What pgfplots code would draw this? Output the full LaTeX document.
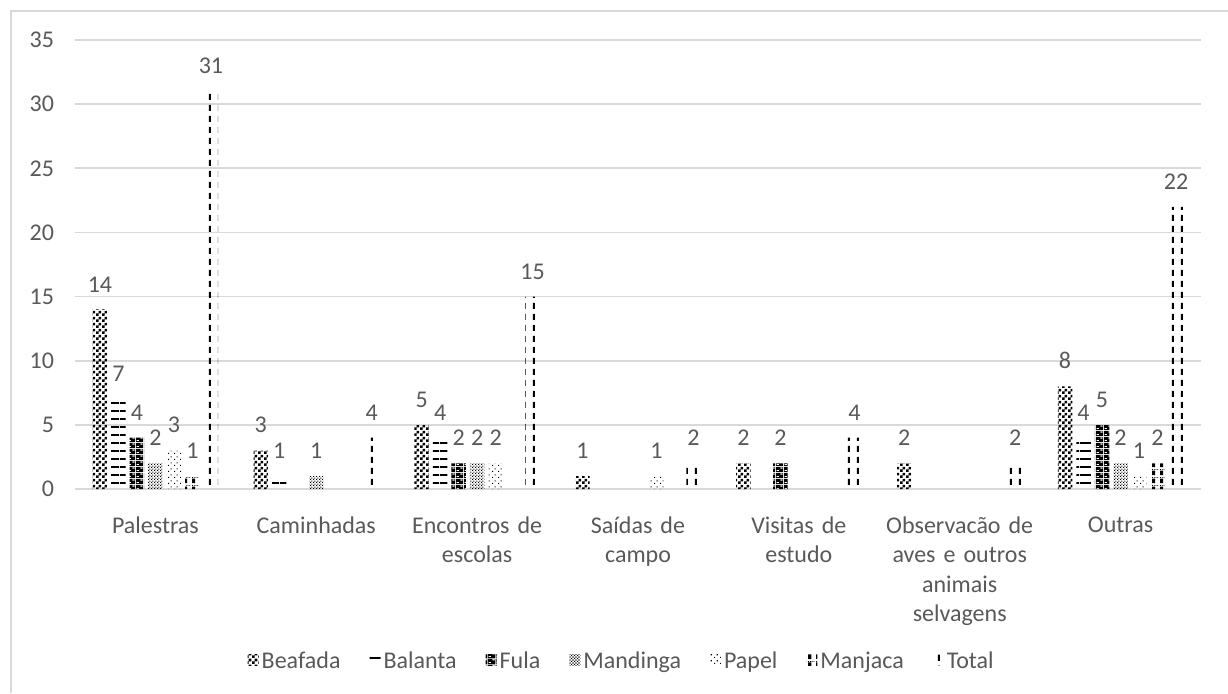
\documentclass[border=0pt]{standalone}
\usepackage{fontspec}
\setmainfont{Carlito}
\usepackage{pgfplots}
\pgfplotsset{compat=1.18}
\usetikzlibrary{patterns}

\definecolor{txt}{HTML}{595959}
\definecolor{grd}{HTML}{D9D9D9}

% fill patterns (black on white, as in the original)
\pgfdeclarepatternformonly{beafada}{\pgfqpoint{0pt}{0pt}}{\pgfqpoint{3pt}{3pt}}{\pgfqpoint{3pt}{3pt}}{%
  \pgfpathrectangle{\pgfqpoint{0pt}{0pt}}{\pgfqpoint{1.5pt}{1.5pt}}%
  \pgfpathrectangle{\pgfqpoint{1.5pt}{1.5pt}}{\pgfqpoint{1.5pt}{1.5pt}}%
  \pgfusepath{fill}}
\pgfdeclarepatternformonly{balanta}{\pgfqpoint{0pt}{0pt}}{\pgfqpoint{20pt}{4.2pt}}{\pgfqpoint{20pt}{4.2pt}}{%
  \pgfpathrectangle{\pgfqpoint{0pt}{0pt}}{\pgfqpoint{20pt}{1pt}}%
  \pgfusepath{fill}}
\pgfdeclarepatternformonly{fula}{\pgfqpoint{0pt}{0pt}}{\pgfqpoint{4pt}{3pt}}{\pgfqpoint{4pt}{3pt}}{%
  \pgfseteorule
  \pgfpathrectangle{\pgfqpoint{0pt}{0pt}}{\pgfqpoint{4pt}{3pt}}%
  \pgfpathrectangle{\pgfqpoint{0.4pt}{0.5pt}}{\pgfqpoint{1.3pt}{0.7pt}}%
  \pgfpathrectangle{\pgfqpoint{2.4pt}{2pt}}{\pgfqpoint{1.3pt}{0.7pt}}%
  \pgfusepath{fill}}
\pgfdeclarepatternformonly{mandinga}{\pgfqpoint{0pt}{0pt}}{\pgfqpoint{1.4pt}{1.4pt}}{\pgfqpoint{1.4pt}{1.4pt}}{%
  \pgfpathrectangle{\pgfqpoint{0pt}{0pt}}{\pgfqpoint{0.6pt}{0.6pt}}%
  \pgfpathrectangle{\pgfqpoint{0.7pt}{0.7pt}}{\pgfqpoint{0.6pt}{0.6pt}}%
  \pgfusepath{fill}}
\pgfdeclarepatternformonly{papel}{\pgfqpoint{0pt}{0pt}}{\pgfqpoint{3pt}{3pt}}{\pgfqpoint{3pt}{3pt}}{%
  \pgfpathrectangle{\pgfqpoint{0pt}{0pt}}{\pgfqpoint{0.6pt}{0.6pt}}%
  \pgfpathrectangle{\pgfqpoint{1.5pt}{1.5pt}}{\pgfqpoint{0.6pt}{0.6pt}}%
  \pgfusepath{fill}}
\pgfdeclarepatternformonly{manjaca}{\pgfqpoint{0pt}{0pt}}{\pgfqpoint{4pt}{4pt}}{\pgfqpoint{4pt}{4pt}}{%
  \pgfpathrectangle{\pgfqpoint{0pt}{1.5pt}}{\pgfqpoint{1.8pt}{2.5pt}}%
  \pgfpathrectangle{\pgfqpoint{0pt}{0pt}}{\pgfqpoint{0.5pt}{0.5pt}}%
  \pgfpathrectangle{\pgfqpoint{1pt}{0pt}}{\pgfqpoint{0.5pt}{0.5pt}}%
  \pgfpathrectangle{\pgfqpoint{2pt}{0pt}}{\pgfqpoint{0.5pt}{0.5pt}}%
  \pgfpathrectangle{\pgfqpoint{3pt}{0pt}}{\pgfqpoint{0.5pt}{0.5pt}}%
  \pgfusepath{fill}}
\pgfdeclarepatternformonly{total}{\pgfqpoint{0pt}{0pt}}{\pgfqpoint{4.5pt}{5.5pt}}{\pgfqpoint{4.5pt}{5.5pt}}{%
  \pgfpathrectangle{\pgfqpoint{1pt}{0pt}}{\pgfqpoint{1.1pt}{3.3pt}}%
  \pgfusepath{fill}}

\newcommand{\lbl}{\fontsize{12}{14.6}\selectfont}

\begin{document}
\begin{tikzpicture}
\useasboundingbox (0,0) rectangle (614pt,346.5pt);
\draw[grd, line width=0.8pt] (5.5pt,0) -- (5.5pt,341pt) -- (614pt,341pt);

\begin{axis}[
    at={(37.5pt,102pt)}, anchor=south west,
    scale only axis,
    width=563pt, height=224.5pt,
    xmin=-0.5, xmax=6.5,
    ymin=0, ymax=35,
    xtick={0,...,6},
    xticklabels={Palestras, Caminhadas, {Encontros de\\escolas}, {Saídas de\\campo},
        {Visitas de\\estudo}, {Observacão de\\aves e outros\\animais\\selvagens}, Outras},
    ytick={0,5,...,35},
    ymajorgrids=true,
    grid style={grd, line width=0.8pt},
    axis line style={draw=none},
    major tick length=0pt,
    tick label style={font=\lbl, text=txt},
    xticklabel style={align=center, text width=85pt, anchor=north, yshift=-10.5pt},
    yticklabel style={anchor=east, xshift=-7pt},
    /pgf/number format/assume math mode=true,
    ybar=2.05pt,
    bar width=7.2pt,
    nodes near coords,
    nodes near coords style={font=\lbl, text=txt, anchor=south, inner sep=0pt, yshift=8.5pt},
    legend style={at={(axis description cs:0.486,-0.385)}, anchor=center,
        draw=none, font=\lbl, text=txt, legend columns=7,
        nodes={inner xsep=1.5pt},
        /tikz/every odd column/.append style={column sep=0pt},
        /tikz/every even column/.append style={column sep=13pt}},
    legend image code/.code={\fill[#1] (0pt,-1.6pt) rectangle (5.5pt,3.9pt);},
]

\addplot[draw=none, pattern=beafada, pattern color=black]
    coordinates {(0,14)(1,3)(2,5)(3,1)(4,2)(5,2)(6,8)};
\addlegendentry{Beafada}

\addplot[draw=none, pattern=balanta, pattern color=black]
    coordinates {(0,7)(1,1)(2,4)(6,4)};
\addlegendentry{Balanta}

\addplot[draw=none, pattern=fula, pattern color=black]
    coordinates {(0,4)(2,2)(4,2)(6,5)};
\addlegendentry{Fula}

\addplot[draw=none, pattern=mandinga, pattern color=black]
    coordinates {(0,2)(1,1)(2,2)(6,2)};
\addlegendentry{Mandinga}

\addplot[draw=none, pattern=papel, pattern color=black]
    coordinates {(0,3)(2,2)(3,1)(6,1)};
\addlegendentry{Papel}

\addplot[draw=none, pattern=manjaca, pattern color=black]
    coordinates {(0,1)(6,2)};
\addlegendentry{Manjaca}

\addplot[draw=none, pattern=total, pattern color=black]
    coordinates {(0,31)(1,4)(2,15)(3,2)(4,4)(5,2)(6,22)};
\addlegendentry{Total}

\end{axis}
\end{tikzpicture}
\end{document}
